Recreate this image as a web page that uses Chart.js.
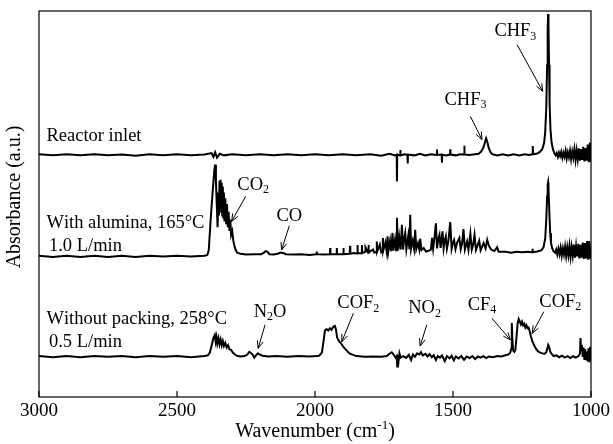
<!DOCTYPE html>
<html>
<head>
<meta charset="utf-8">
<script src="https://cdn.jsdelivr.net/npm/chart.js@4"></script>
<style>
  body { margin: 0; background: #fff; }
</style>
</head>
<body>
<canvas id="spectra" width="613" height="444"></canvas>
<script>
// [wavenumber (cm-1), absorbance offset (a.u.)]
const inlet = [
  [3000,62.9],[2950,62.6],[2900,62.9],[2850,62.6],[2800,62.9],[2750,62.6],[2700,62.8],[2650,62.5],
  [2600,62.9],[2550,62.6],[2500,62.9],[2450,62.6],[2400,62.8],[2375,63.2],[2368,62.2],[2362,63.4],
  [2355,62.0],[2345,63.0],[2330,62.6],[2300,62.9],[2250,62.6],[2200,62.9],[2150,62.6],[2100,62.9],
  [2050,62.6],[2000,62.9],[1950,62.6],[1900,62.9],[1850,62.6],[1800,62.9],[1760,62.5],[1730,63.0],
  [1710,62.6],[1704,62.8],[1703,55.8],[1702,62.8],[1692,62.6],[1691,64.0],[1690,62.6],[1675,62.9],
  [1665,62.7],[1664,60.5],[1663,62.8],[1640,62.6],[1620,63.0],[1600,62.6],[1580,62.9],[1559,62.7],
  [1558,64.1],[1557,62.7],[1541,62.8],[1540,60.7],[1539,62.8],[1525,62.6],[1511,62.8],[1510,64.2],
  [1509,62.8],[1490,62.6],[1475,62.9],[1460,62.8],[1459,65.1],[1458,62.8],[1440,62.7],[1420,62.9],
  [1407,63.0],[1398,63.6],[1390,64.6],[1384,66.0],[1380,67.0],[1376,66.2],[1370,64.4],[1364,63.4],
  [1358,62.9],[1340,62.6],[1320,62.9],[1300,62.6],[1280,62.9],[1260,62.6],[1240,62.9],[1225,62.7],
  [1212,62.9],[1211,65.0],[1210,62.9],[1195,63.1],[1185,63.5],[1176,64.3],[1170,65.8],[1166,68.5],
  [1162,75],[1159,86],[1157,95],[1155.5,99.2],[1154,96],[1152,86],[1150,76],[1147,69.5],[1143,66],
  [1138,64.2],[1133,63.2],[1128,62.6],[1124,63.2],[1120,62.2],[1116,63.3],[1112,62.4],[1108,63.5],
  [1104,62.0],[1100,63.3],[1096,62.2],[1092,63.8],[1088,61.8],[1084,63.4],[1080,62.1],[1076,63.8],
  [1072,61.6],[1068,63.6],[1064,62.0],[1060,64.2],[1056,61.4],[1052,63.9],[1048,61.6],[1044,64.4],
  [1040,61.2],[1036,64.2],[1032,61.4],[1028,64.8],[1024,61.0],[1020,64.5],[1016,61.2],[1012,65.4],
  [1008,60.8],[1004,65.9],[1001,61.0],[1000,63.5]
];

const alumina = [
  [3000,36.6],[2950,36.3],[2900,36.6],[2850,36.3],[2800,36.6],[2750,36.3],[2700,36.6],[2650,36.3],
  [2600,36.6],[2550,36.4],[2500,36.6],[2450,36.4],[2400,36.6],[2390,36.8],[2385,38],[2378,46],
  [2370,54],[2365,58.5],[2362,60.2],[2359,56],[2356,50],[2353,44],[2350,53],[2348,47],[2346,56],
  [2344,49],[2342,56.3],[2340,48],[2338,55.5],[2336,47],[2334,54.5],[2332,46.5],[2330,53],[2328,45.5],
  [2325,51.5],[2322,45],[2319,50],[2316,44],[2313,48],[2310,43],[2307,46],[2304,42],[2300,43],
  [2296,40.5],[2292,39.2],[2288,38.2],[2282,37.4],[2270,37.1],[2250,36.9],[2220,37.0],[2195,37.0],
  [2185,37.4],[2178,37.8],[2172,37.6],[2165,37.0],[2150,36.9],[2135,37.1],[2125,37.4],[2115,37.3],
  [2105,37.0],[2080,36.9],[2050,37.0],[2020,36.8],[1995,37.0],[1994,37.7],[1993,37.0],[1970,36.9],
  [1946,37.0],[1945,38.6],[1944,37.0],[1922,37.0],[1921,38.6],[1920,37.0],[1898,37.0],[1897,38.6],
  [1896,37.0],[1874,37.1],[1873,39.2],[1872,37.1],[1860,37.3],[1847,37.2],[1846,39.4],[1845,37.2],
  [1831,37.3],[1830,39.4],[1829,37.3],[1818,37.6],[1817,38.8],[1807,37.4],[1806,39.4],[1805,37.4],
  [1790,38.2],[1785,37.4],[1777,37.6],[1776,40.3],[1775,37.6],[1765,39.5],[1760,37.5],[1755,37.8],
  [1754,41.2],[1753,37.8],[1745,40],[1740,37.6],[1737,41.6],[1734,37.8],[1728,40.5],[1724,37.8],
  [1719,42.5],[1716,37.9],[1710,40.8],[1706,38],[1703,46.4],[1700,38],[1695,41.5],[1690,38.2],
  [1685,44.6],[1681,38.2],[1677,41],[1673,42.5],[1669,38.3],[1662,41.8],[1658,38.3],[1655,47.2],
  [1652,38.4],[1646,40.5],[1641,38.4],[1637,43.3],[1633,38.3],[1627,39.8],[1622,38.2],[1619,41],
  [1614,38.1],[1606,38.6],[1598,37.7],[1588,37.9],[1580,38.2],[1576,41.2],[1572,38.4],[1566,42],
  [1562,45],[1558,38.5],[1553,41],[1549,42],[1545,38.6],[1538,42.9],[1534,38.5],[1530,40.5],
  [1526,41.6],[1522,38.4],[1517,40.2],[1510,45.3],[1505,38.4],[1500,40],[1496,40.7],[1491,38.3],
  [1485,40],[1477,41.2],[1472,38.3],[1467,39.8],[1462,43.5],[1457,38.2],[1449,40.3],[1444,38.1],
  [1437,42.3],[1432,38.2],[1427,39.5],[1422,42],[1417,38.1],[1411,39.3],[1405,40.5],[1400,38],
  [1389,39.9],[1382,38.5],[1376,40.7],[1370,39.2],[1362,38.2],[1350,37.8],[1340,38.8],[1335,37.6],
  [1310,37.6],[1290,37.4],[1270,37.6],[1250,37.5],[1230,37.6],[1213,37.5],[1212,38.4],[1211,37.5],
  [1195,37.7],[1180,38.0],[1172,38.8],[1166,41],[1162,46],[1159,52],[1157,55],[1155.5,55.6],
  [1154,54],[1151,48],[1148,42.5],[1145,40],[1141,38.6],[1136,37.8],[1130,37.4],[1126,38.2],
  [1122,36.9],[1118,38.4],[1114,37.0],[1110,38.7],[1106,36.6],[1102,38.5],[1098,36.9],[1094,39.0],
  [1090,36.5],[1086,38.8],[1082,36.7],[1078,39.2],[1074,36.3],[1070,38.9],[1066,36.6],[1062,39.5],
  [1058,36.1],[1054,39.1],[1050,36.4],[1046,39.7],[1042,35.9],[1038,39.4],[1034,36.1],[1030,40.0],
  [1026,35.8],[1022,39.9],[1018,35.9],[1014,40.4],[1010,35.6],[1006,40.4],[1002,35.8],[1000,38.5]
];

const noPacking = [
  [3000,10.6],[2950,10.3],[2900,10.6],[2850,10.3],[2800,10.6],[2750,10.4],[2700,10.6],[2650,10.3],
  [2600,10.6],[2550,10.4],[2500,10.6],[2450,10.3],[2400,10.6],[2388,10.8],[2381,11.5],[2374,13.5],
  [2368,15.3],[2363,16.1],[2360,14.3],[2357,15.5],[2354,13.8],[2350,15.2],[2346,13.6],[2342,14.9],
  [2338,13.4],[2334,14.5],[2330,13.2],[2325,14.0],[2320,12.8],[2315,13.4],[2310,12.3],[2304,12.2],
  [2298,11.5],[2290,11.0],[2283,10.7],[2270,10.5],[2255,10.6],[2245,11.0],[2238,11.7],[2232,11.4],
  [2226,11.0],[2220,10.2],[2214,10.8],[2207,11.3],[2200,11.0],[2190,10.7],[2170,10.5],[2140,10.6],
  [2100,10.4],[2060,10.6],[2020,10.5],[1995,10.6],[1985,10.7],[1975,11.5],[1968,15.0],[1964,17.2],
  [1958,17.6],[1952,17.2],[1946,17.8],[1940,17.4],[1934,18.2],[1928,18.4],[1924,17.5],[1920,15.4],
  [1914,14.6],[1905,13.8],[1895,12.8],[1885,12.0],[1875,11.3],[1862,10.9],[1850,10.6],[1820,10.4],
  [1790,10.5],[1760,10.4],[1740,10.6],[1730,11.2],[1722,11.6],[1715,11.0],[1708,10.2],[1704,10.6],
  [1702,7.9],[1700,10.8],[1697,9.4],[1694,11.3],[1690,10.2],[1680,10.6],[1670,10.1],[1660,10.9],
  [1652,9.6],[1645,11.0],[1638,10.4],[1630,11.3],[1622,11.0],[1616,11.6],[1610,10.8],[1600,11.2],
  [1592,10.5],[1585,11.1],[1577,10.3],[1570,10.8],[1562,9.6],[1555,10.6],[1547,10.2],[1540,10.8],
  [1530,9.3],[1522,10.6],[1512,10.0],[1505,10.7],[1497,9.5],[1490,10.5],[1480,10.0],[1470,10.6],
  [1460,9.6],[1450,10.5],[1440,10.1],[1430,10.6],[1420,9.8],[1410,10.5],[1400,10.2],[1390,10.6],
  [1380,10.1],[1370,10.5],[1355,10.3],[1340,10.6],[1325,10.5],[1310,10.8],[1300,11.0],[1293,11.4],
  [1289,12.5],[1287,19.2],[1285,15.0],[1282,12.0],[1278,11.7],[1274,12.2],[1270,15.5],[1266,19.0],
  [1262,20.2],[1258,19.6],[1254,18.8],[1250,19.5],[1246,18.6],[1242,19.0],[1238,18.0],[1234,18.6],
  [1230,17.8],[1226,18.0],[1222,17.0],[1218,15.8],[1213,14.5],[1206,13.4],[1200,12.6],[1192,11.8],
  [1184,11.5],[1176,11.3],[1168,11.2],[1162,11.6],[1158,12.6],[1155,13.5],[1152,13.0],[1148,11.8],
  [1142,11.1],[1135,10.6],[1125,10.8],[1115,10.3],[1105,10.7],[1095,10.2],[1085,10.6],[1075,10.1],
  [1065,10.6],[1055,10.2],[1045,10.6],[1040,11.2],[1038,15.3],[1036,12.0],[1033,13.5],[1030,10.4],
  [1027,12.8],[1024,9.6],[1021,12.4],[1018,9.8],[1015,11.8],[1012,9.2],[1009,12.6],[1006,9.0],
  [1003,13.0],[1001,9.4],[1000,11]
];

const xTicks = [3000, 2500, 2000, 1500, 1000];

// trace names, left aligned at [wavenumber, absorbance]
const traceNames = [
  ['Reactor inlet', 2973, 67.6],
  ['With alumina, 165°C', 2973, 45.0],
  ['1.0 L/min', 2964, 39.2],
  ['Without packing, 258°C', 2973, 20.2],
  ['0.5 L/min', 2964, 14.1]
];

// peak labels: text ("_" = subscript), label centre, arrow start, arrow tip
const peakNotes = [
  ['CHF_3', 1274, 94.8, 1268, 91.3, 1175, 79.2],
  ['CHF_3', 1455, 77.0, 1437, 72.7, 1395, 66.7],
  ['CO_2', 2224, 55.0, 2251, 52.0, 2302, 45.5],
  ['CO', 2093, 46.8, 2093, 44.4, 2121, 38.1],
  ['N_2O', 2163, 22.1, 2181, 18.7, 2206, 12.6],
  ['COF_2', 1843, 24.3, 1861, 21.7, 1903, 14.3],
  ['NO_2', 1603, 23.0, 1595, 18.7, 1619, 13.2],
  ['CF_4', 1395, 23.9, 1359, 20.4, 1292, 14.8],
  ['COF_2', 1111, 24.7, 1171, 22.1, 1213, 16.5]
];

const SERIF = "'Liberation Serif', 'Times New Roman', serif";

function toPoints(rows) {
    return rows.map(r => ({x: r[0], y: r[1]}));
}

// draws text with "_x" as subscript x; align 'center' or 'left'
function drawRich(ctx, str, x, y, size, align) {
    let parts = [];
    for (let i = 0; i < str.length; i++) {
        if (str[i] === '_') {
            parts.push([str[i + 1], true]);
            i++;
        } else {
            parts.push([str[i], false]);
        }
    }
    const subSize = Math.round(size * 0.66);
    let width = 0;
    parts.forEach(p => {
        ctx.font = (p[1] ? subSize : size) + 'px ' + SERIF;
        width += ctx.measureText(p[0]).width;
    });
    let cx = align === 'center' ? x - width / 2 : x;
    ctx.textAlign = 'left';
    ctx.textBaseline = 'middle';
    parts.forEach(p => {
        ctx.font = (p[1] ? subSize : size) + 'px ' + SERIF;
        ctx.fillText(p[0], cx, p[1] ? y + size * 0.3 : y);
        cx += ctx.measureText(p[0]).width;
    });
}

function drawArrow(ctx, x1, y1, x2, y2) {
    const ang = Math.atan2(y2 - y1, x2 - x1);
    const head = 8;
    ctx.beginPath();
    ctx.moveTo(x1, y1);
    ctx.lineTo(x2, y2);
    ctx.moveTo(x2 - head * Math.cos(ang - 0.38), y2 - head * Math.sin(ang - 0.38));
    ctx.lineTo(x2, y2);
    ctx.lineTo(x2 - head * Math.cos(ang + 0.38), y2 - head * Math.sin(ang + 0.38));
    ctx.stroke();
}

const decorations = {
    id: 'decorations',
    afterDraw(chart) {
        const ctx = chart.ctx;
        const area = chart.chartArea;
        const xs = chart.scales.x;
        const ys = chart.scales.y;
        ctx.save();
        ctx.strokeStyle = '#000';
        ctx.fillStyle = '#000';

        // frame and inward ticks
        ctx.lineWidth = 1.2;
        ctx.strokeRect(area.left, area.top, area.right - area.left, area.bottom - area.top);
        ctx.beginPath();
        xs.ticks.forEach(t => {
            const px = xs.getPixelForValue(t.value);
            ctx.moveTo(px, area.bottom);
            ctx.lineTo(px, area.bottom - 6);
        });
        ctx.stroke();

        traceNames.forEach(n => {
            drawRich(ctx, n[0], xs.getPixelForValue(n[1]), ys.getPixelForValue(n[2]), 18.5, 'left');
        });

        ctx.lineWidth = 1;
        peakNotes.forEach(n => {
            drawRich(ctx, n[0], xs.getPixelForValue(n[1]), ys.getPixelForValue(n[2]), 18.5, 'center');
            drawArrow(ctx, xs.getPixelForValue(n[3]), ys.getPixelForValue(n[4]),
                      xs.getPixelForValue(n[5]), ys.getPixelForValue(n[6]));
        });

        // axis titles
        const midX = (area.left + area.right) / 2;
        ctx.font = '20px ' + SERIF;
        const w1 = ctx.measureText('Wavenumber (cm').width;
        ctx.font = '13px ' + SERIF;
        const w2 = ctx.measureText('-1').width;
        ctx.font = '20px ' + SERIF;
        const w3 = ctx.measureText(')').width;
        let tx = midX - (w1 + w2 + w3) / 2;
        ctx.textAlign = 'left';
        ctx.textBaseline = 'middle';
        ctx.fillText('Wavenumber (cm', tx, 432);
        ctx.font = '13px ' + SERIF;
        ctx.fillText('-1', tx + w1, 426);
        ctx.font = '20px ' + SERIF;
        ctx.fillText(')', tx + w1 + w2, 432);

        ctx.translate(15, 197);
        ctx.rotate(-Math.PI / 2);
        ctx.textAlign = 'center';
        ctx.fillText('Absorbance (a.u.)', 0, 0);
        ctx.restore();
    }
};

function lineSet(label, rows) {
    return {
        label: label,
        data: toPoints(rows),
        borderColor: '#000',
        borderWidth: 2,
        pointRadius: 0,
        tension: 0
    };
}

new Chart(document.getElementById('spectra'), {
    type: 'line',
    data: {
        datasets: [
            lineSet('Reactor inlet', inlet),
            lineSet('With alumina, 165°C, 1.0 L/min', alumina),
            lineSet('Without packing, 258°C, 0.5 L/min', noPacking)
        ]
    },
    options: {
        responsive: false,
        animation: false,
        layout: { padding: { left: 0, right: 22, top: 11, bottom: 0 } },
        plugins: {
            legend: { display: false },
            tooltip: { enabled: false }
        },
        scales: {
            x: {
                type: 'linear',
                reverse: true,
                min: 1000,
                max: 3000,
                afterBuildTicks: s => { s.ticks = xTicks.map(v => ({value: v})); },
                ticks: {
                    color: '#000',
                    font: { family: SERIF, size: 19 },
                    padding: 3,
                    maxRotation: 0,
                    autoSkip: false,
                    callback: v => String(v)
                },
                grid: { display: false, drawTicks: false },
                border: { display: false },
                afterFit: s => { s.height = 47; }
            },
            y: {
                min: 0,
                max: 100,
                ticks: { display: false },
                grid: { display: false, drawTicks: false },
                border: { display: false },
                afterFit: s => { s.width = 39; }
            }
        }
    },
    plugins: [decorations]
});
</script>
</body>
</html>
